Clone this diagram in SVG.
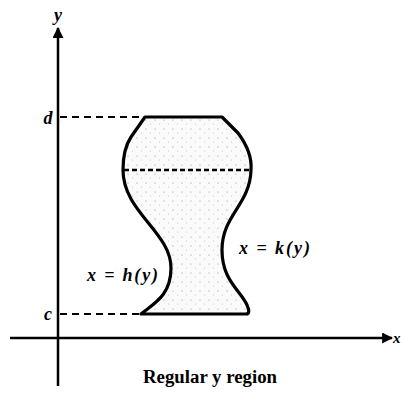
<svg xmlns="http://www.w3.org/2000/svg" width="401" height="393" viewBox="0 0 401 393">
<style>
.ax{stroke:#000;stroke-width:2.5;fill:none}
.dash{stroke:#000;stroke-width:2;stroke-dasharray:7,5;fill:none}
.lbl{font-family:"Liberation Serif",serif;font-style:italic;font-weight:bold;font-size:18px;fill:#000}
.cap{font-family:"Liberation Serif",serif;font-weight:bold;font-size:18px;fill:#000}
</style>
<defs>
<marker id="arr" viewBox="0 0 10 10" refX="9" refY="5" markerWidth="11" markerHeight="11" markerUnits="userSpaceOnUse" orient="auto">
<path d="M0,0 L10,5 L0,10 Z" fill="#000"/>
</marker>
<pattern id="stip" width="9" height="9" patternUnits="userSpaceOnUse">
<rect width="9" height="9" fill="#fafafa"/>
<circle cx="2" cy="3" r="0.6" fill="#999"/>
<circle cx="6.5" cy="7" r="0.5" fill="#bbb"/>
</pattern>
</defs>
<g id="connectors">
<line class="ax" x1="58" y1="386" x2="58" y2="28" marker-end="url(#arr)"/>
<line class="ax" x1="10" y1="338" x2="392" y2="338" marker-end="url(#arr)"/>
<line class="dash" x1="60" y1="117" x2="145" y2="117"/>
<line class="dash" x1="60" y1="314" x2="141" y2="314"/>
</g>
<g id="region">
<path d="M145,117 L222,117 L238,133 C247,145 252,158 251,170 C250,205 222,215 222,250 C222,280 240,290 247,305 Q251,314 246,314 L141,314 C153,304 171,296 171,268 C171,232 123,212 123,170 C123,152 127,143 131,137 Z" fill="url(#stip)" stroke="#000" stroke-width="3.2" stroke-linejoin="round"/>
<line x1="124" y1="170" x2="250" y2="170" stroke="#000" stroke-width="2.5" stroke-dasharray="5,3"/>
</g>
<g id="labels">
<text class="lbl" x="58" y="21" text-anchor="middle">y</text>
<text class="lbl" x="48" y="124" text-anchor="middle">d</text>
<text class="lbl" x="48" y="320" text-anchor="middle">c</text>
<text class="lbl" x="393" y="343" style="font-size:15px">x</text>
<text class="lbl" x="239" y="254" textLength="71" lengthAdjust="spacing">x = k(y)</text>
<text class="lbl" x="87" y="281" textLength="71" lengthAdjust="spacing">x = h(y)</text>
<text class="cap" x="143" y="383" textLength="134" lengthAdjust="spacingAndGlyphs">Regular y region</text>
</g>
</svg>
